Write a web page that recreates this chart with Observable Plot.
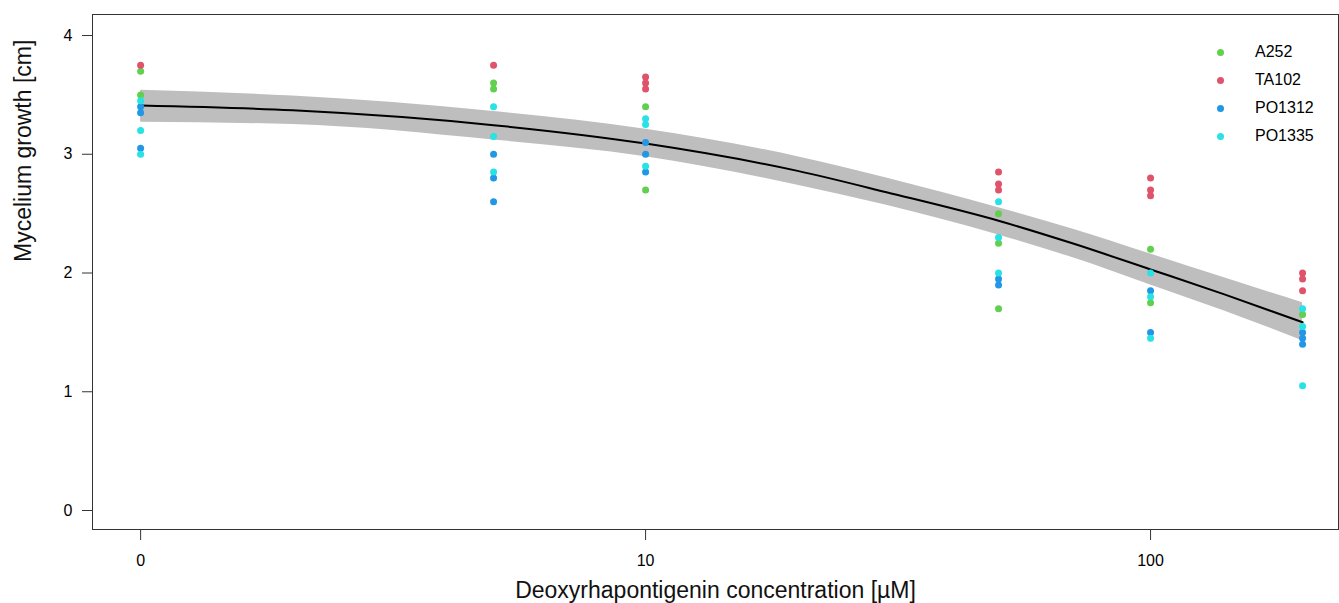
<!DOCTYPE html>
<html>
<head>
<meta charset="utf-8">
<script src="https://cdn.jsdelivr.net/npm/d3@7"></script>
<script src="https://cdn.jsdelivr.net/npm/@observablehq/plot@0.6"></script>
<style>
  html, body { margin: 0; padding: 0; background: #fff; }
  #wrap { position: relative; width: 1339px; height: 603px; font-family: "Liberation Sans", Arial, sans-serif; }
  #legend { position: absolute; left: 1217px; top: 38px; font-size: 16px; color: #000; }
  #legend .row { height: 28px; display: flex; align-items: center; }
  #legend .sw { width: 7px; height: 7px; border-radius: 50%; margin-right: 31px; }
</style>
</head>
<body>
<div id="wrap"><div id="legend"></div></div>
<script>
// Concentrations (µM); 0 is drawn at the position of 1 on the log axis
const concentrations = [0, 5, 10, 50, 100, 200];
const strains = ["A252", "TA102", "PO1312", "PO1335"];
const strainColors = ["#61D04F", "#DF536B", "#2297E6", "#28E2E5"];

// Mycelium growth [cm], one list per concentration
const growthA252   = [[3.70, 3.50], [3.60, 3.55], [3.40, 2.70], [2.50, 2.25, 1.70], [2.20, 1.75], [1.65]];
const growthTA102  = [[3.75], [3.75], [3.65, 3.60, 3.55], [2.85, 2.75, 2.70], [2.80, 2.70, 2.65], [2.00, 1.95, 1.85]];
const growthPO1312 = [[3.40, 3.35, 3.05], [3.00, 2.80, 2.60], [3.10, 3.00, 2.85], [1.95, 1.90], [1.85, 1.50], [1.50, 1.45, 1.40]];
const growthPO1335 = [[3.45, 3.20, 3.00], [3.40, 3.15, 2.85], [3.30, 3.25, 2.90], [2.60, 2.30, 2.00], [2.00, 1.80, 1.45], [1.70, 1.55, 1.05]];

// Fitted curve and confidence band
const fitConc  = [0, 2, 5, 10, 20, 30, 50, 70, 100, 140, 200];
const fitMean  = [3.41, 3.37, 3.245, 3.09, 2.86, 2.68, 2.44, 2.25, 2.03, 1.82, 1.585];
const fitLower = [3.27, 3.25, 3.12, 2.98, 2.74, 2.57, 2.32, 2.13, 1.90, 1.68, 1.43];
const fitUpper = [3.54, 3.49, 3.36, 3.21, 2.98, 2.80, 2.55, 2.37, 2.16, 1.96, 1.75];

const xTicks = [0, 10, 100];
const yTicks = [0, 1, 2, 3, 4];

const pos = c => (c === 0 ? 1 : c);
const growth = {A252: growthA252, TA102: growthTA102, PO1312: growthPO1312, PO1335: growthPO1335};

const points = [];
for (const s of strains) {
  growth[s].forEach((vals, i) => {
    for (const v of vals) points.push({x: pos(concentrations[i]), y: v, strain: s});
  });
}
const fit = fitConc.map((c, i) => ({x: pos(c), y: fitMean[i], lo: fitLower[i], hi: fitUpper[i]}));

const font = "Liberation Sans, Arial, sans-serif";

const chart = Plot.plot({
  width: 1339,
  height: 603,
  marginLeft: 92,
  marginRight: 1,
  marginTop: 14,
  marginBottom: 74,
  style: {fontFamily: font, background: "#fff", color: "#000"},
  x: {type: "log", domain: [0.803, 235.6]},
  y: {domain: [-0.16, 4.177]},
  color: {domain: strains, range: strainColors},
  marks: [
    Plot.areaY(fit, {x: "x", y1: "lo", y2: "hi", fill: "#BEBEBE", curve: "monotone-x"}),
    Plot.line(fit, {x: "x", y: "y", stroke: "#000", strokeWidth: 2, curve: "monotone-x"}),
    Plot.dot(points, {x: "x", y: "y", fill: "strain", r: 3.5}),
    Plot.frame({stroke: "#333", strokeWidth: 1}),
    Plot.axisX({ticks: xTicks.map(pos), tickFormat: d => (d === 1 ? "0" : String(d)), tickSize: 11, tickPadding: 14, fontSize: 16, label: null, stroke: "#333"}),
    Plot.axisY({ticks: yTicks, tickFormat: d => String(d), tickSize: 10, tickPadding: 10, fontSize: 16, label: null, stroke: "#333"}),
    Plot.text(["Deoxyrhapontigenin concentration [µM]"], {frameAnchor: "bottom", dy: 68, fontSize: 23, fill: "#111"}),
    Plot.text(["Mycelium growth [cm]"], {frameAnchor: "left", dx: -69, dy: -10, rotate: -90, fontSize: 23, fill: "#111"})
  ]
});

const wrap = document.getElementById("wrap");
wrap.insertBefore(chart, wrap.firstChild);

const legend = document.getElementById("legend");
strains.forEach((s, i) => {
  const row = document.createElement("div");
  row.className = "row";
  const sw = document.createElement("span");
  sw.className = "sw";
  sw.style.background = strainColors[i];
  const t = document.createElement("span");
  t.textContent = s;
  row.appendChild(sw);
  row.appendChild(t);
  legend.appendChild(row);
});
</script>
</body>
</html>
